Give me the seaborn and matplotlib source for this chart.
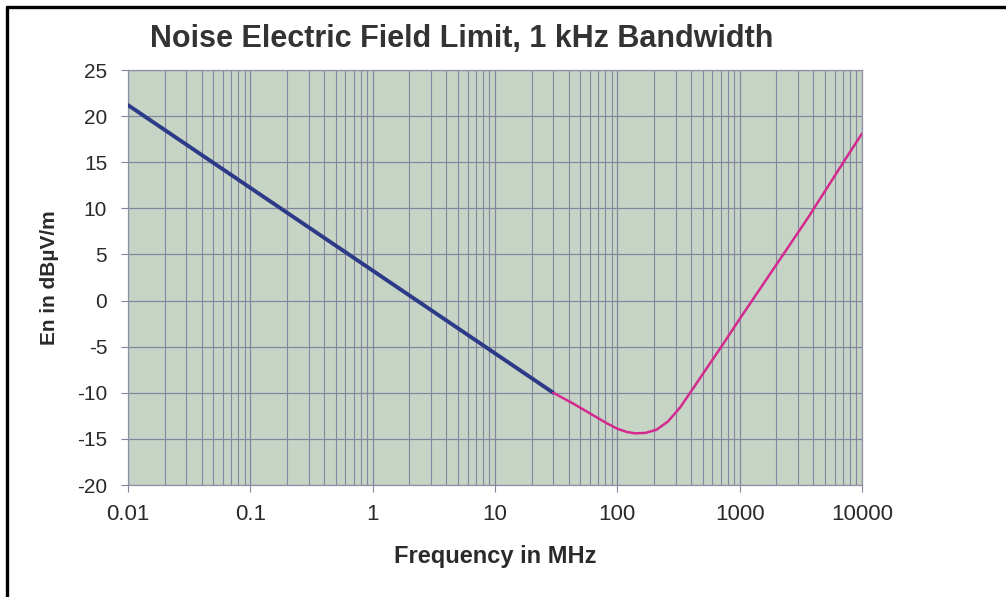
import numpy as np
import pandas as pd
import matplotlib
matplotlib.use("Agg")
import matplotlib.pyplot as plt
from matplotlib.lines import Line2D
from matplotlib.ticker import LogLocator, NullFormatter
import seaborn as sns

# ----------------------------------------------
# Values
# ----------------------------------------------
blue_freq = [0.01, 30]
blue_en = [21.2, -10.0]

magenta_freq = [30, 44, 82, 100, 120, 140, 170, 210, 260, 326, 394, 522, 760, 1000, 1265,
                2355, 3630, 7295, 10000]
magenta_en = [-10.0, -11.2, -13.3, -13.9, -14.25, -14.4, -14.35, -14.0, -13.1, -11.6, -10.0,
              -7.6, -4.4, -2.0, 0.0, 5.3, 9.0, 15.3, 18.1]

x_ticks = [0.01, 0.1, 1, 10, 100, 1000, 10000]
x_tick_labels = ["0.01", "0.1", "1", "10", "100", "1000", "10000"]
y_ticks = [-20, -15, -10, -5, 0, 5, 10, 15, 20, 25]

blue_df = pd.DataFrame({"freq": blue_freq, "en": blue_en})
magenta_df = pd.DataFrame({"freq": magenta_freq, "en": magenta_en})

# ----------------------------------------------
# Style
# ----------------------------------------------
sns.set_style("white")
plt.rcParams["font.family"] = ["Liberation Sans", "DejaVu Sans"]
plt.rcParams["axes.unicode_minus"] = False

text_col = "#2a2a2a"
grid_col = "#8585a0"

fig = plt.figure(figsize=(10.06, 5.97), dpi=100)
ax = fig.add_axes([0.1272, 0.1876, 0.7296, 0.6951])
ax.set_facecolor("#c6d4c6")

sns.lineplot(data=blue_df, x="freq", y="en", ax=ax, color="#2c3a88", linewidth=2.8, zorder=4)
sns.lineplot(data=magenta_df, x="freq", y="en", ax=ax, color="#d42a8e", linewidth=1.8, zorder=4)

ax.set_xscale("log")
ax.set_xlim(0.01, 10000)
ax.set_ylim(-20, 25)
ax.set_xticks(x_ticks)
ax.set_xticklabels(x_tick_labels)
ax.xaxis.set_minor_locator(LogLocator(base=10, subs=np.arange(2, 10)))
ax.xaxis.set_minor_formatter(NullFormatter())
ax.set_yticks(y_ticks)

ax.grid(True, which="major", axis="both", color=grid_col, linewidth=0.9, zorder=1)
ax.grid(True, which="minor", axis="x", color=grid_col, linewidth=0.8, zorder=1)
ax.set_axisbelow(True)

ax.tick_params(axis="both", which="major", direction="out", length=5, width=0.8,
               color=grid_col, labelcolor=text_col, pad=9, left=True, bottom=True)
ax.tick_params(axis="x", which="major", labelsize=16)
ax.tick_params(axis="y", which="major", labelsize=15, pad=10)
ax.tick_params(axis="x", which="minor", length=0)

for side in ["left", "bottom", "top", "right"]:
    ax.spines[side].set_color("#9090a8")
    ax.spines[side].set_linewidth(0.9)

ax.set_xlabel("Frequency in MHz", fontsize=17, fontweight="bold", color=text_col, labelpad=14)
ax.set_ylabel("En in dBµV/m", fontsize=15, fontweight="bold", color=text_col, labelpad=13)

fig.text(0.459, 0.934, "Noise Electric Field Limit, 1 kHz Bandwidth", ha="center", va="center",
         fontsize=22, fontweight="bold", color="#333333")

# black frame on the top and left edges of the picture
fig.add_artist(Line2D([7 / 1006, 1.0], [1 - 7 / 597, 1 - 7 / 597], color="black", linewidth=2.4,
                      transform=fig.transFigure))
fig.add_artist(Line2D([7 / 1006, 7 / 1006], [0.0, 1 - 7 / 597], color="black", linewidth=2.4,
                      transform=fig.transFigure))

fig.savefig("out.png", dpi=100)
